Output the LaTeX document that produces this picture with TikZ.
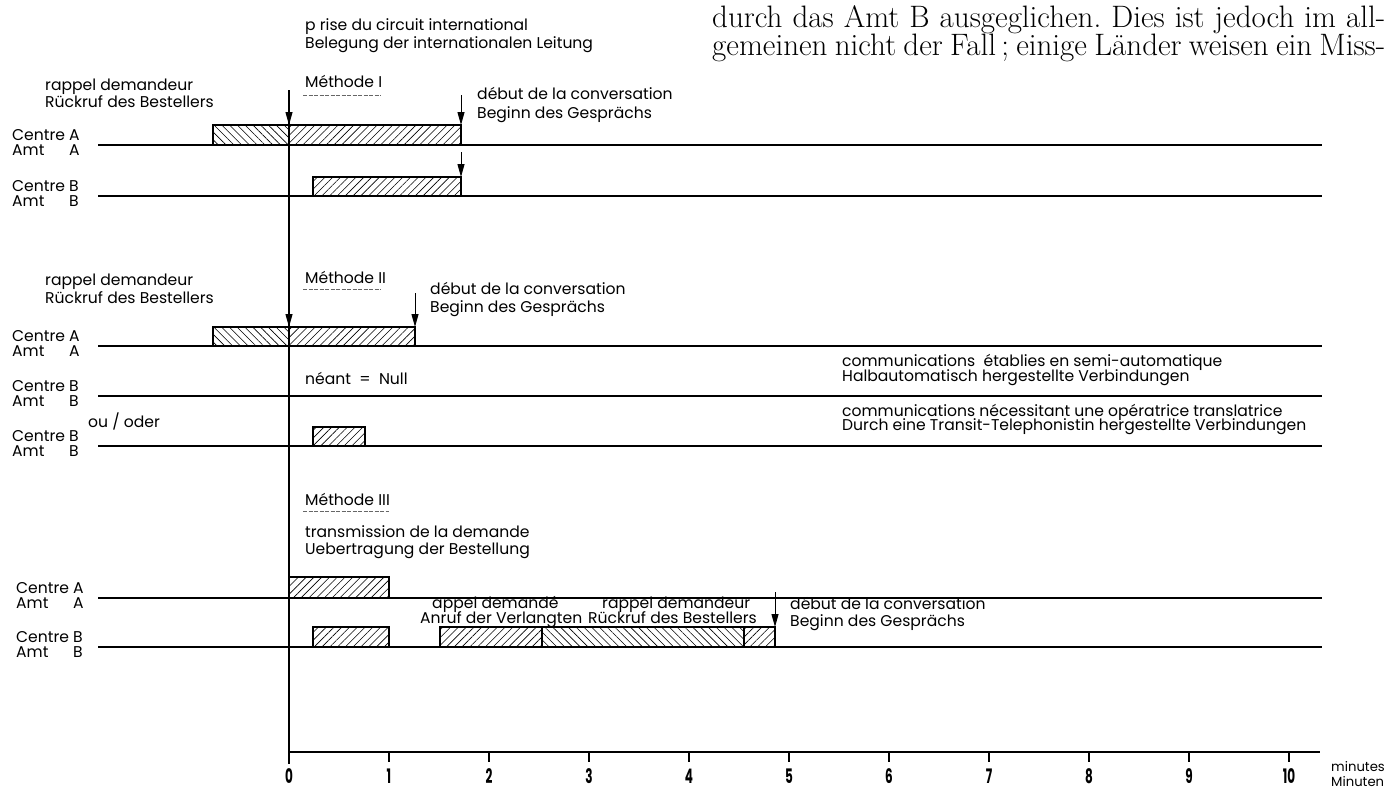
\documentclass[tikz,border=0pt]{standalone}
\usepackage{fontspec}
\usepackage{calc}
\usepackage{graphicx}
\newfontfamily\labfont{Poppins}
\usetikzlibrary{patterns.meta,arrows.meta}
\newcommand\cnum[1]{\scalebox{0.6}[1]{#1}}
\newcommand\ctrlab[4]{%
  \node[lab] (#1c) at (#2,#3-5) {Centre #4};
  \node[lab] (#1a) at (#2,#3+10) {\makebox[\widthof{Centre }][l]{Amt}#4};}
\tikzset{
  lab/.style={anchor=base west, inner sep=0pt, font=\labfont\fontsize{15.6}{16}\selectfont},
  smlab/.style={anchor=base west, inner sep=0pt, font=\labfont\fontsize{13.2}{14}\selectfont},
  tline/.style={line width=1.5pt},
  bar/.style={line width=1.9pt},
  hne/.style={pattern={Lines[angle=45,distance=5.5pt,line width=0.6pt]}},
  hnw/.style={pattern={Lines[angle=-45,distance=5.5pt,line width=0.6pt]}},
  darrow/.style={line width=1pt, -{Triangle[length=13pt,width=7pt]}},
  uline/.style={line width=0.7pt, dash pattern=on 4pt off 1.5pt, black!60},
  num/.style={inner sep=0pt, font=\labfont\bfseries\fontsize{20}{20}\selectfont},
  body/.style={anchor=base west, inner sep=0pt, font=\fontsize{31}{32}\selectfont\frenchspacing}
}
\begin{document}
\begin{tikzpicture}[x=1pt,y=-1pt]
\useasboundingbox (0,0) rectangle (1389,790);

% body text (top right)
\node[body] (t1) at (712,27) {\makebox[673pt][s]{durch das Amt B ausgeglichen. Dies ist jedoch im all-}};
\node[body] (t2) at (712,55) {\makebox[673pt][s]{gemeinen nicht der Fall\,; einige Länder weisen ein Miss-}};

% time axis
\coordinate (o) at (289,752);
\coordinate (otop) at (289,90);
\coordinate (obot) at (289,764);
\coordinate (xend) at (1320,752);
\draw[tline] (otop) -- (obot);
\draw[tline] (o) -- (xend);
\foreach \k in {1,...,10} \draw[line width=1.3pt] (289+100*\k,752) -- (289+100*\k,762);
\foreach \k in {0,...,10} \node[num] (n\k) at (289+100*\k,776) {\cnum{\k}};
\node[smlab] (min1) at (1331,771) {minutes};
\node[smlab] (min2) at (1331,786) {Minuten};

% ===== Methode I =====
\node[lab] (p1) at (305,30) {p rise du circuit international};
\node[lab] (p2) at (305,48) {Belegung der internationalen Leitung};
\node[lab] (m1) at (305,87) {Méthode I};
\draw[uline] (303,95) -- (381,95);
\node[lab] (r1a) at (45,90) {rappel demandeur};
\node[lab] (r1b) at (45,107) {Rückruf des Bestellers};
\node[lab] (d1a) at (477,99) {début de la conversation};
\node[lab] (d1b) at (477,118) {Beginn des Gesprächs};
\ctrlab{IA}{12}{145}{A}
\ctrlab{IB}{12}{196}{B}
\draw[tline] (98,145) -- (1322,145);
\draw[tline] (98,196) -- (1322,196);
\draw[bar,hnw] (213,125) rectangle (289,145);
\draw[bar,hne] (289,125) rectangle (461,145);
\draw[bar,hne] (313,177) rectangle (461,196);
\coordinate (a1s) at (289,105); \coordinate (a1e) at (289,125);
\draw[darrow] (a1s) -- (a1e);
\coordinate (a2s) at (461,95); \coordinate (a2e) at (461,125);
\draw[darrow] (a2s) -- (a2e);
\coordinate (a3s) at (461,152); \coordinate (a3e) at (461,177);
\draw[darrow] (a3s) -- (a3e);

% ===== Methode II =====
\node[lab] (r2a) at (45,285) {rappel demandeur};
\node[lab] (r2b) at (45,303) {Rückruf des Bestellers};
\node[lab] (m2) at (305,283) {Méthode II};
\draw[uline] (303,289) -- (381,289);
\node[lab] (d2a) at (430,294) {début de la conversation};
\node[lab] (d2b) at (430,312) {Beginn des Gesprächs};
\ctrlab{IIA}{12}{346}{A}
\ctrlab{IIB}{12}{396}{B}
\ctrlab{IIC}{12}{446}{B}
\node[lab] (ou) at (88,427) {ou / oder};
\node[lab] (nn) at (305,384) {néant \ = \ Null};
\node[lab] (s1) at (842,366) {communications \ établies en semi-automatique};
\node[lab] (s2) at (842,381) {Halbautomatisch hergestellte Verbindungen};
\node[lab] (s3) at (842,416) {communications nécessitant une opératrice translatrice};
\node[lab] (s4) at (842,430) {Durch eine Transit-Telephonistin hergestellte Verbindungen};
\draw[tline] (98,346) -- (1322,346);
\draw[tline] (98,396) -- (1322,396);
\draw[tline] (98,446) -- (1322,446);
\draw[bar,hnw] (213,327) rectangle (289,346);
\draw[bar,hne] (289,327) rectangle (415,346);
\draw[bar,hne] (313,427) rectangle (365,446);
\coordinate (b1s) at (289,307); \coordinate (b1e) at (289,327);
\draw[darrow] (b1s) -- (b1e);
\coordinate (b2s) at (415,293); \coordinate (b2e) at (415,327);
\draw[darrow] (b2s) -- (b2e);

% ===== Methode III =====
\node[lab] (m3) at (305,505) {Méthode III};
\draw[uline] (303,511) -- (389,511);
\node[lab] (tr1) at (305,537) {transmission de la demande};
\node[lab] (tr2) at (305,554) {Uebertragung der Bestellung};
\ctrlab{IIIA}{16}{598}{A}
\ctrlab{IIIB}{16}{647}{B}
\draw[tline] (98,598) -- (1322,598);
\draw[tline] (98,647) -- (1322,647);
\draw[bar,hne] (289,577) rectangle (389,598);
\draw[bar,hne] (313,627) rectangle (389,647);
\draw[bar,hne] (440,627) rectangle (542,647);
\draw[bar,hnw] (542,627) rectangle (744,647);
\draw[bar,hne] (744,627) rectangle (775,647);
\node[lab] (ap1) at (432,608) {appel demandé};
\node[lab] (ap2) at (420,623) {Anruf der Verlangten};
\node[lab] (rp1) at (602,608) {rappel demandeur};
\node[lab] (rp2) at (588,623) {Rückruf des Bestellers};
\node[lab] (d3a) at (790,609) {début de la conversation};
\node[lab] (d3b) at (790,626) {Beginn des Gesprächs};
\coordinate (c1s) at (775,592); \coordinate (c1e) at (775,627);
\draw[darrow] (c1s) -- (c1e);
\end{tikzpicture}
\end{document}
